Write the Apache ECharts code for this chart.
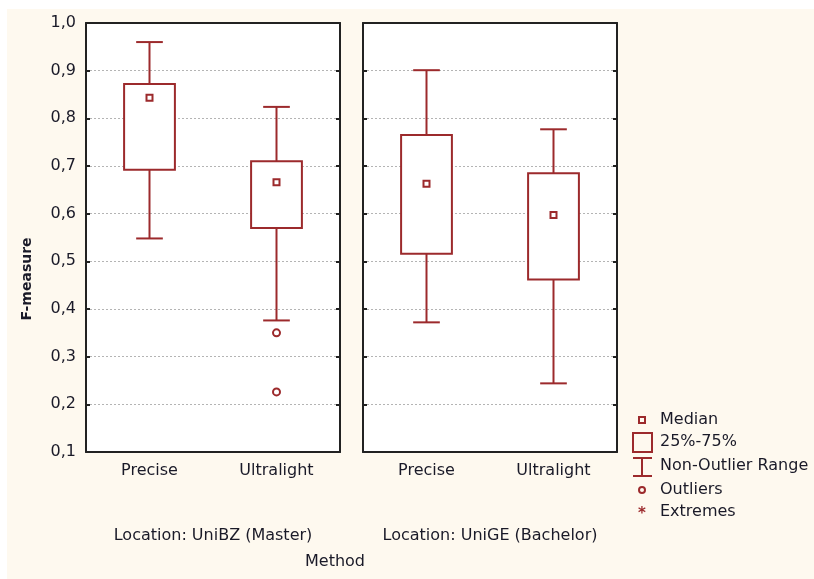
<!DOCTYPE html>
<html>
<head>
<meta charset="utf-8">
<script src="https://cdn.jsdelivr.net/npm/echarts@6/dist/echarts.min.js"></script>
<style>
html,body{margin:0;padding:0;background:#ffffff;}
#bg{position:absolute;left:7px;top:9px;width:807px;height:570px;background:#fef9ef;}
#chart{position:absolute;left:0;top:0;width:814px;height:579px;}
</style>
</head>
<body>
<div id="bg"></div>
<div id="chart"></div>
<script>
// ---- data ----
var categories = ['Precise', 'Ultralight'];
var yTicks = [0.1, 0.2, 0.3, 0.4, 0.5, 0.6, 0.7, 0.8, 0.9, 1.0];
var locations = ['Location: UniBZ (Master)', 'Location: UniGE (Bachelor)'];

// UniBZ (Master)
var bzWhiskerLow  = [0.548, 0.376];
var bzQ1          = [0.692, 0.570];
var bzMedian      = [0.843, 0.666];
var bzQ3          = [0.872, 0.710];
var bzWhiskerHigh = [0.960, 0.824];
var bzOutliers    = [['Ultralight', 0.350], ['Ultralight', 0.226]];

// UniGE (Bachelor)
var geWhiskerLow  = [0.372, 0.244];
var geQ1          = [0.516, 0.462];
var geMedian      = [0.663, 0.597];
var geQ3          = [0.765, 0.685];
var geWhiskerHigh = [0.901, 0.777];
var geOutliers    = [];

var legendItems = ['Median', '25%-75%', 'Non-Outlier Range', 'Outliers', 'Extremes'];

// ---- styles ----
var RED = '#9c2a2c';
var TXT = '#1a1a28';
var FONT = 'DejaVu Sans';

function boxData(lo, q1, med, q3, hi) {
  return categories.map(function (c, i) { return [i, lo[i], q1[i], med[i], q3[i], hi[i]]; });
}

function renderBox(params, api) {
  var idx = api.value(0);
  var pLo = api.coord([idx, api.value(1)]);
  var pQ1 = api.coord([idx, api.value(2)]);
  var pMed = api.coord([idx, api.value(3)]);
  var pQ3 = api.coord([idx, api.value(4)]);
  var pHi = api.coord([idx, api.value(5)]);
  var band = api.size([1, 0])[0];
  var bw = band * 0.4, cw = band * 0.21;
  var x = pQ1[0];
  var ls = { stroke: RED, lineWidth: 2, fill: null };
  return {
    type: 'group',
    children: [
      { type: 'line', shape: { x1: x, y1: pLo[1], x2: x, y2: pQ1[1] }, style: ls },
      { type: 'line', shape: { x1: x, y1: pQ3[1], x2: x, y2: pHi[1] }, style: ls },
      { type: 'line', shape: { x1: x - cw / 2, y1: pLo[1], x2: x + cw / 2, y2: pLo[1] }, style: ls },
      { type: 'line', shape: { x1: x - cw / 2, y1: pHi[1], x2: x + cw / 2, y2: pHi[1] }, style: ls },
      { type: 'rect', shape: { x: x - bw / 2, y: pQ3[1], width: bw, height: pQ1[1] - pQ3[1] },
        style: { stroke: RED, lineWidth: 2, fill: '#ffffff' } },
      { type: 'rect', shape: { x: x - 3, y: pMed[1] - 3, width: 6, height: 6 },
        style: { stroke: RED, lineWidth: 2, fill: '#ffffff' } }
    ]
  };
}

var grids = [
  { left: 86, top: 23, width: 254, height: 429 },
  { left: 363, top: 23, width: 254, height: 429 }
];

var xAxes = [], yAxes = [];
grids.forEach(function (g, gi) {
  xAxes.push({
    type: 'category', gridIndex: gi, data: categories, position: 'bottom',
    name: locations[gi], nameLocation: 'middle', nameGap: 76,
    nameTextStyle: { fontFamily: FONT, fontSize: 16, color: TXT },
    axisLine: { lineStyle: { color: '#222', width: 2 } },
    axisTick: { inside: true, alignWithLabel: true, length: 4, lineStyle: { color: '#222', width: 2 } },
    axisLabel: { fontFamily: FONT, fontSize: 16, color: TXT, margin: 11 },
    splitLine: { show: false }
  });
  xAxes.push({
    type: 'category', gridIndex: gi, data: categories, position: 'top',
    axisLine: { lineStyle: { color: '#222', width: 2 } },
    axisTick: { inside: true, alignWithLabel: true, length: 4, lineStyle: { color: '#222', width: 2 } },
    axisLabel: { show: false },
    splitLine: { show: false }
  });
  yAxes.push({
    type: 'value', gridIndex: gi, min: 0.1, max: 1.0, interval: 0.1, position: 'left',
    axisLine: { show: true, lineStyle: { color: '#222', width: 2 } },
    axisTick: { show: true, inside: true, length: 4, lineStyle: { color: '#222', width: 2 } },
    axisLabel: {
      show: gi === 0, fontFamily: FONT, fontSize: 16, color: TXT, margin: 10,
      formatter: function (v) { return v.toFixed(1).replace('.', ','); }
    },
    splitLine: { show: true, lineStyle: { color: '#b4b4b4', width: 1, type: [2, 2] } }
  });
  yAxes.push({
    type: 'value', gridIndex: gi, min: 0.1, max: 1.0, interval: 0.1, position: 'right',
    axisLine: { show: true, lineStyle: { color: '#222', width: 2 } },
    axisTick: { show: true, inside: true, length: 4, lineStyle: { color: '#222', width: 2 } },
    axisLabel: { show: false },
    splitLine: { show: false }
  });
});

var series = [
  { type: 'custom', xAxisIndex: 0, yAxisIndex: 0, renderItem: renderBox,
    data: boxData(bzWhiskerLow, bzQ1, bzMedian, bzQ3, bzWhiskerHigh), z: 5 },
  { type: 'custom', xAxisIndex: 2, yAxisIndex: 2, renderItem: renderBox,
    data: boxData(geWhiskerLow, geQ1, geMedian, geQ3, geWhiskerHigh), z: 5 },
  { type: 'scatter', xAxisIndex: 0, yAxisIndex: 0, data: bzOutliers, symbol: 'circle', symbolSize: 7,
    itemStyle: { color: '#ffffff', borderColor: RED, borderWidth: 2, opacity: 1 }, z: 6 },
  { type: 'scatter', xAxisIndex: 2, yAxisIndex: 2, data: geOutliers, symbol: 'circle', symbolSize: 7,
    itemStyle: { color: '#ffffff', borderColor: RED, borderWidth: 2, opacity: 1 }, z: 6 }
];

// legend built as graphics
var lx = 642, ltx = 660;
var lys = [420, 442, 466, 490, 512];
var legendGraphics = [
  { type: 'rect', shape: { x: lx - 3, y: lys[0] - 3, width: 6, height: 6 }, style: { stroke: RED, lineWidth: 2, fill: 'transparent' } },
  { type: 'rect', shape: { x: lx - 9, y: 433, width: 19, height: 19 }, style: { stroke: RED, lineWidth: 2, fill: 'transparent' } },
  { type: 'line', shape: { x1: lx - 9, y1: 458, x2: lx + 10, y2: 458 }, style: { stroke: RED, lineWidth: 2 } },
  { type: 'line', shape: { x1: lx, y1: 458, x2: lx, y2: 476 }, style: { stroke: RED, lineWidth: 2 } },
  { type: 'line', shape: { x1: lx - 9, y1: 476, x2: lx + 10, y2: 476 }, style: { stroke: RED, lineWidth: 2 } },
  { type: 'circle', shape: { cx: lx, cy: lys[3], r: 3 }, style: { stroke: RED, lineWidth: 2, fill: 'transparent' } },
  { type: 'text', x: lx, y: lys[4] + 2, style: { text: '*', font: 'bold 15px ' + FONT, fill: RED, textAlign: 'center', textVerticalAlign: 'middle' } }
];
legendItems.forEach(function (t, i) {
  legendGraphics.push({ type: 'text', x: ltx, y: lys[i],
    style: { text: t, font: '16px ' + FONT, fill: TXT, textAlign: 'left', textVerticalAlign: 'middle' } });
});
legendGraphics.push({ type: 'text', x: 335, y: 562,
  style: { text: 'Method', font: '16px ' + FONT, fill: TXT, textAlign: 'center', textVerticalAlign: 'middle' } });
legendGraphics.push({ type: 'text', x: 27, y: 279, rotation: Math.PI / 2,
  style: { text: 'F-measure', font: 'bold 14px ' + FONT, fill: TXT, textAlign: 'center', textVerticalAlign: 'middle' } });

var chart = echarts.init(document.getElementById('chart'), null, { renderer: 'canvas' });
chart.setOption({
  animation: false,
  backgroundColor: 'transparent',
  grid: grids.map(function (g) {
    return Object.assign({ show: true, backgroundColor: '#ffffff', borderWidth: 0 }, g);
  }),
  xAxis: xAxes,
  yAxis: yAxes,
  series: series,
  graphic: { elements: legendGraphics }
});
</script>
</body>
</html>
